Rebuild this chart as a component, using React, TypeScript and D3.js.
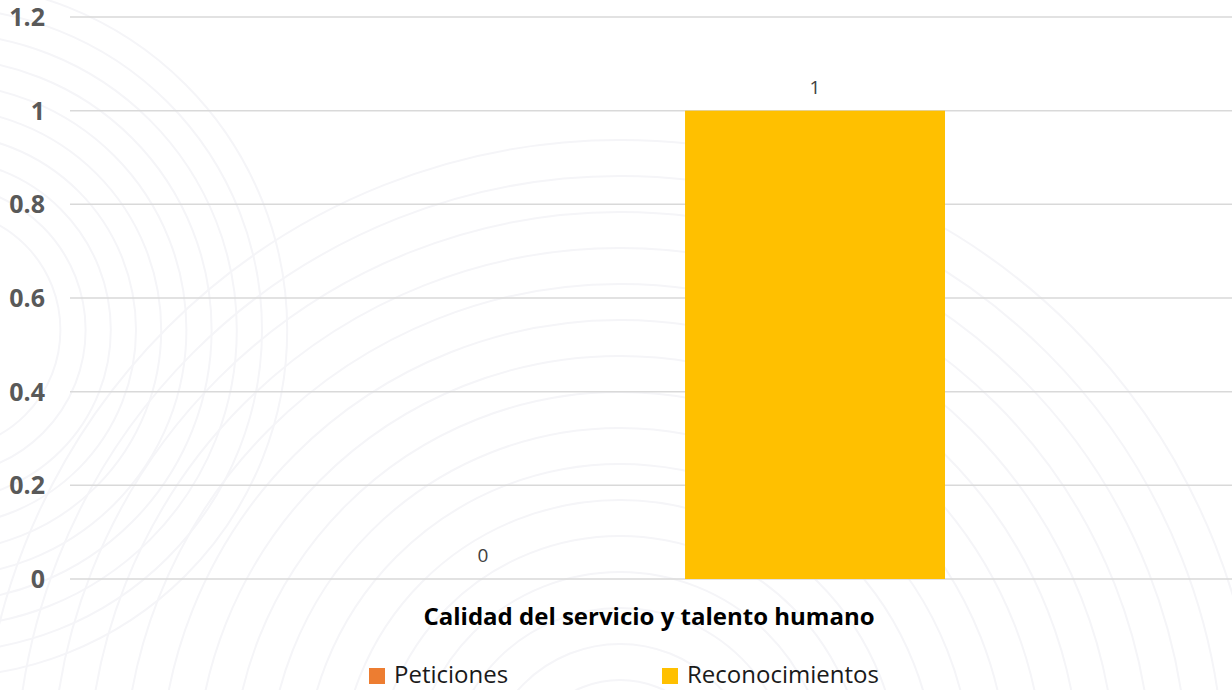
import React from "react";
import * as d3 from "d3";

const categories = ["Calidad del servicio y talento humano"];
const seriesNames = ["Peticiones", "Reconocimientos"];
const seriesColors = ["#ED7D31", "#FFC000"];
const peticiones = [0];
const reconocimientos = [1];
const yTicks = [0, 0.2, 0.4, 0.6, 0.8, 1, 1.2];

const W = 1232;
const H = 690;
const margin = { left: 70, right: 4, top: 17, bottom: 111 };

export default function App() {
  const x0 = d3
    .scaleBand<string>()
    .domain(categories)
    .range([margin.left, W - margin.right])
    .paddingInner(0)
    .paddingOuter(0.478);
  const x1 = d3
    .scaleBand<string>()
    .domain(seriesNames)
    .range([0, x0.bandwidth()])
    .paddingInner(0.217)
    .paddingOuter(0);
  const y = d3.scaleLinear().domain([0, 1.2]).range([H - margin.bottom, margin.top]);
  const values = [peticiones, reconocimientos];

  const arcs = d3.range(0, 16).map((i) => 100 + i * 36);

  return (
    <svg
      width={W}
      height={H}
      style={{ position: "absolute", left: 0, top: 0, background: "#fff" }}
      fontFamily="'Open Sans', 'Noto Sans', sans-serif"
    >
      <g stroke="#f5f5f8" strokeWidth={2} fill="none">
        {arcs.map((r, i) => (
          <circle key={"a" + i} cx={620} cy={780} r={r} />
        ))}
        {arcs.slice(2, 12).map((r, i) => (
          <circle key={"b" + i} cx={-60} cy={330} r={r * 0.7} />
        ))}
      </g>
      {yTicks.map((t) => (
        <g key={t}>
          <line x1={margin.left} x2={W} y1={y(t)} y2={y(t)} stroke="#d9d9d9" strokeWidth={1.5} />
          <text
            x={45}
            y={y(t)}
            dy="0.36em"
            textAnchor="end"
            fontSize={25}
            fontWeight="bold"
            fill="#595959"
          >
            {String(t)}
          </text>
        </g>
      ))}
      {categories.map((c, ci) => (
        <g key={c} transform={`translate(${x0(c)},0)`}>
          {seriesNames.map((s, si) => {
            const v = values[si][ci];
            const bx = x1(s) as number;
            return (
              <g key={s}>
                <rect
                  x={bx}
                  y={y(v)}
                  width={x1.bandwidth()}
                  height={y(0) - y(v)}
                  fill={seriesColors[si]}
                />
                <text
                  x={bx + x1.bandwidth() / 2}
                  y={y(v) - 17}
                  textAnchor="middle"
                  fontSize={19}
                  fill="#404040"
                >
                  {String(v)}
                </text>
              </g>
            );
          })}
          <text
            x={x0.bandwidth() / 2}
            y={625}
            textAnchor="middle"
            fontSize={24}
            fontWeight="bold"
            fill="#000"
          >
            {c}
          </text>
        </g>
      ))}
      {seriesNames.map((s, i) => {
        const lx = [369, 662][i];
        return (
          <g key={s}>
            <rect x={lx} y={668} width={16} height={16} fill={seriesColors[i]} />
            <text x={lx + 25} y={683} fontSize={24} fill="#1a1a1a">
              {s}
            </text>
          </g>
        );
      })}
    </svg>
  );
}
